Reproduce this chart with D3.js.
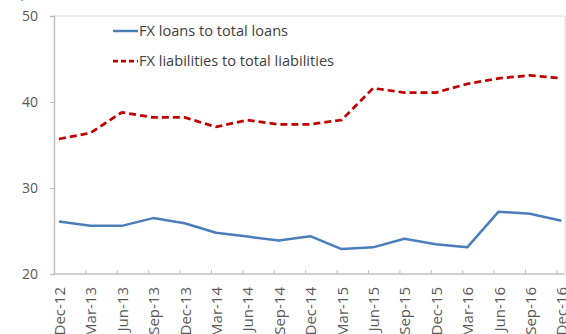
<!DOCTYPE html>
<html>
<head>
<meta charset="utf-8">
<script src="https://cdn.jsdelivr.net/npm/d3@7"></script>
<style>
  html, body { margin: 0; padding: 0; background: #fff; }
  svg { display: block; }
  text { font-family: "Open Sans", "Noto Sans", sans-serif; }
</style>
</head>
<body>
<svg id="chart" width="566" height="334"></svg>
<script>
// Quarterly dates
const categories = ["Dec-12","Mar-13","Jun-13","Sep-13","Dec-13","Mar-14","Jun-14","Sep-14",
  "Dec-14","Mar-15","Jun-15","Sep-15","Dec-15","Mar-16","Jun-16","Sep-16","Dec-16"];

// FX loans to total loans (percent)
const fxLoans = [26.1, 25.6, 25.6, 26.5, 25.9, 24.8, 24.35, 23.9, 24.4, 22.9, 23.1, 24.1, 23.45, 23.1, 27.25, 27.0, 26.2];

// FX liabilities to total liabilities (percent)
const fxLiabilities = [35.7, 36.4, 38.8, 38.2, 38.2, 37.1, 37.9, 37.4, 37.4, 37.9, 41.6, 41.1, 41.1, 42.1, 42.75, 43.1, 42.75];

const yTicks = [20, 30, 40, 50];

const seriesNames = ["FX loans to total loans", "FX liabilities to total liabilities"];

const svg = d3.select("#chart");

const plot = { left: 54, top: 16, right: 565, bottom: 274 };

// Points sit at each quarter; tick marks sit slightly to the left of them
const x = d3.scalePoint().domain(categories).range([59, 561.4]);
const xTick = d3.scalePoint().domain(categories).range([54, 556.4]);
const y = d3.scaleLinear().domain([20, 50]).range([plot.bottom, plot.top]);

// Heading, mostly above the visible area
svg.append("text")
  .attr("x", 0).attr("y", -3)
  .attr("font-size", 14).attr("fill", "#4a7ebb")
  .text("(In percent)");

// Plot frame (top and right)
svg.append("path")
  .attr("d", `M${plot.left},${plot.top}H${plot.right}V${plot.bottom}`)
  .attr("fill", "none").attr("stroke", "#d9d9d9").attr("stroke-width", 1);

// Y axis
const yAxis = svg.append("g")
  .attr("transform", `translate(${plot.left},0)`)
  .call(d3.axisLeft(y).tickValues(yTicks).tickSize(4).tickPadding(12));
yAxis.select(".domain").attr("stroke", "#bfbfbf").attr("stroke-width", 1.5);
yAxis.selectAll(".tick line").attr("stroke", "#bfbfbf");
yAxis.selectAll(".tick text").attr("font-size", 14).attr("fill", "#595959")
  .attr("font-family", "'Open Sans', sans-serif");

// X axis
const xAxis = svg.append("g")
  .attr("transform", `translate(0,${plot.bottom})`)
  .call(d3.axisBottom(xTick).tickSize(-4).tickSizeOuter(0).tickFormat(() => ""));
xAxis.select(".domain").attr("d", `M${plot.left},0H${plot.right}`)
  .attr("stroke", "#bfbfbf").attr("stroke-width", 1.5);
xAxis.selectAll(".tick line").attr("stroke", "#bfbfbf");

// Rotated quarter labels
svg.append("g").selectAll("text")
  .data(categories)
  .join("text")
  .attr("transform", d => `translate(${x(d) + 6},${plot.bottom + 13}) rotate(-90)`)
  .attr("text-anchor", "end")
  .attr("font-size", 15)
  .attr("fill", "#595959")
  .text(d => d);

// Lines
const line = d3.line()
  .x((d, i) => x(categories[i]))
  .y(d => y(d));

svg.append("path")
  .datum(fxLoans)
  .attr("d", line)
  .attr("fill", "none")
  .attr("stroke", "#4a7ebb")
  .attr("stroke-width", 2.5)
  .attr("stroke-linejoin", "round");

svg.append("path")
  .datum(fxLiabilities)
  .attr("d", line)
  .attr("fill", "none")
  .attr("stroke", "#c00000")
  .attr("stroke-width", 2.75)
  .attr("stroke-dasharray", "7,4");

// Legend
const legend = svg.append("g");
const legendItems = [
  { name: seriesNames[0], color: "#4a7ebb", dash: null, y: 31 },
  { name: seriesNames[1], color: "#c00000", dash: "5,3", y: 61 }
];
legendItems.forEach(item => {
  legend.append("line")
    .attr("x1", 113).attr("x2", 138)
    .attr("y1", item.y).attr("y2", item.y)
    .attr("stroke", item.color)
    .attr("stroke-width", item.dash ? 2.75 : 2.5)
    .attr("stroke-dasharray", item.dash);
  legend.append("text")
    .attr("x", 139).attr("y", item.y)
    .attr("dy", "0.35em")
    .attr("font-size", 14.6)
    .attr("fill", "#404040")
    .text(item.name);
});
</script>
</body>
</html>
